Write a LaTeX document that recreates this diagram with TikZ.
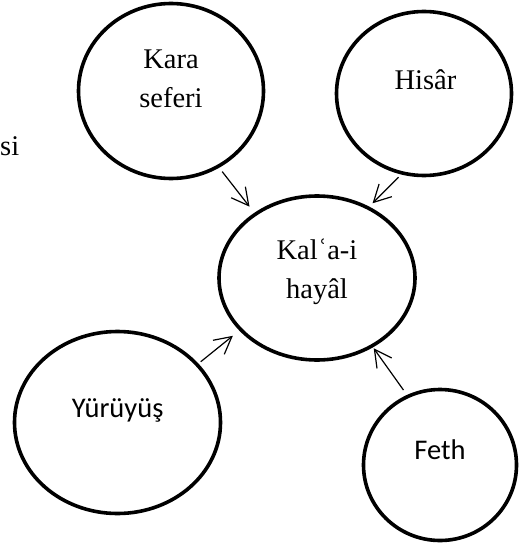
\documentclass[tikz,border=0pt]{standalone}
\usepackage{fontspec}
\setmainfont{Liberation Serif}
\newfontfamily\calibri{Carlito}
\usetikzlibrary{arrows.meta, shapes.geometric}

\begin{document}
\begin{tikzpicture}[
  x=1pt, y=-1pt,
  ring/.style={draw, ellipse, line width=3.6pt, inner sep=0pt, outer sep=0pt},
  lbl/.style={anchor=base, align=center, inner sep=0pt, font=\fontsize{28.5}{38.5}\selectfont},
  sans/.style={lbl, font=\calibri\fontsize{28.5}{38.5}\selectfont},
  arr/.style={-{Straight Barb[length=17pt, width=18pt]}, line width=1.2pt}
]
\useasboundingbox (0,0) rectangle (520,543);

\node[ring, minimum width=185pt, minimum height=175pt] (kara) at (171,91) {};
\node[ring, minimum width=175pt, minimum height=164pt] (hisar) at (424,93.5) {};
\node[ring, minimum width=196pt, minimum height=164pt] (kale) at (317,278) {};
\node[ring, minimum width=206pt, minimum height=182pt] (yuruyus) at (117.5,422.5) {};
\node[ring, minimum width=153pt, minimum height=151pt] (feth) at (440,465) {};

% two-line labels sit on the baseline of their last line
\node[lbl] (kara-t) at (171,107) {Kara\\seferi};
\node[lbl] (hisar-t) at (425.5,89) {Hisâr};
\node[lbl] (kale-t) at (317,298) {Kalʿa-i\\hayâl};
\node[sans] (yuruyus-t) at (117.7,417) {Yürüyüş};
\node[sans] (feth-t) at (440,459) {Feth};
\node[lbl, anchor=base west] (si) at (0,155) {si};

\draw[arr, shorten <=6.7pt, shorten >=9.6pt] (kara.-58.2) -- (kale.134.4);
\draw[arr, shorten <=5.9pt, shorten >=6.6pt] (hisar.-105.4) -- (kale.54.4);
\draw[arr, shorten <=4.7pt, shorten >=10.1pt] (yuruyus.36.6) -- (kale.-146.8);
\draw[arr, shorten <=7.8pt, shorten >=3pt] (feth.115.7) -- (kale.-51.1);
\end{tikzpicture}
\end{document}
